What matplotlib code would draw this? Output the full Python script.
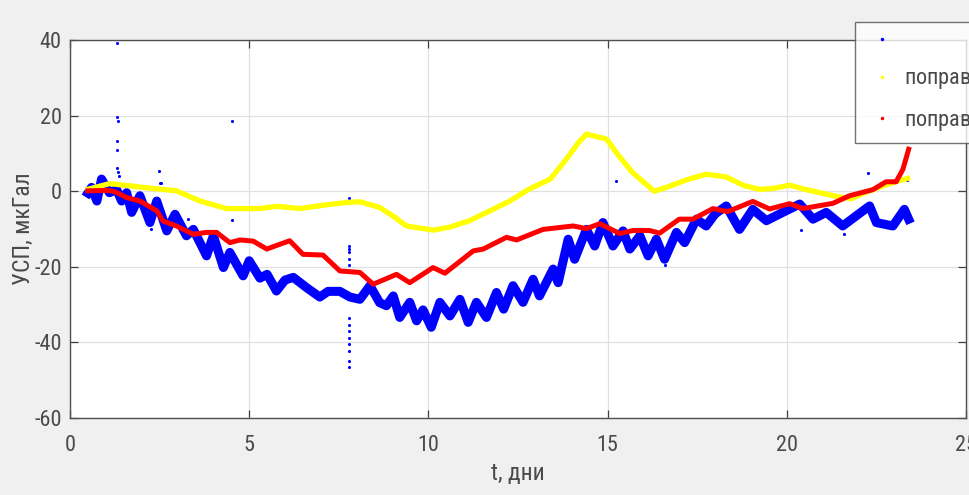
import numpy as np
import matplotlib
matplotlib.use("Agg")
import matplotlib.pyplot as plt
from matplotlib import font_manager
from matplotlib.lines import Line2D

# ---------------- data ----------------
blue_t = [0.5, 0.6, 0.75, 0.88, 1.1, 1.3, 1.44, 1.58, 1.72, 1.95, 2.23, 2.42, 2.7, 2.93,
          3.25, 3.44, 3.81, 4.0, 4.28, 4.46, 4.83, 5.0, 5.3, 5.5, 5.76, 6.0, 6.23, 6.6,
          6.97, 7.2, 7.53, 7.81, 8.09, 8.37, 8.64, 8.83, 9.02, 9.2, 9.48, 9.67, 9.85,
          10.08, 10.32, 10.6, 10.88, 11.11, 11.34, 11.62, 11.9, 12.1, 12.36, 12.64, 12.92,
          13.1, 13.48, 13.62, 13.9, 14.08, 14.41, 14.64, 14.87, 15.15, 15.43, 15.62, 15.9,
          16.13, 16.36, 16.59, 16.92, 17.15, 17.48, 17.75, 18.0, 18.31, 18.68, 19.05,
          19.43, 19.89, 20.36, 20.73, 21.1, 21.56, 21.94, 22.31, 22.5, 22.96, 23.28, 23.4]
blue_v = [-0.5, 1.0, -2.6, 3.2, -0.4, 0.5, -2.6, -0.4, -5.6, -1.2, -8.3, -2.6, -10.5, -6.1,
          -11.8, -10.1, -17.1, -11.8, -20.2, -16.2, -22.4, -18.4, -23.0, -22.0, -26.4, -23.5,
          -22.8, -25.5, -28.0, -26.5, -26.5, -28.0, -28.6, -25.0, -29.5, -30.3, -27.7, -33.4,
          -29.4, -34.3, -31.4, -36.0, -29.4, -33.0, -28.6, -34.7, -29.4, -33.4, -26.8, -31.2,
          -25.0, -29.4, -23.3, -27.7, -20.6, -24.2, -12.7, -18.0, -10.1, -14.5, -8.3, -14.5,
          -10.5, -15.3, -11.8, -17.1, -12.7, -18.0, -10.9, -13.6, -7.4, -9.2, -6.0, -3.9,
          -10.1, -4.8, -7.8, -5.6, -3.4, -7.4, -5.6, -9.2, -6.5, -3.9, -8.3, -9.2, -4.8, -7.4]

outlier_t = [1.32, 1.32, 1.34, 1.32, 1.32, 1.30, 1.35, 1.38, 2.49, 2.50, 2.55, 4.52, 4.52,
             7.79, 7.79, 7.79, 7.79, 7.79, 7.79, 7.79, 7.79, 7.79, 7.79, 7.79, 7.79, 7.79,
             7.79, 7.79, 15.23, 22.26, 23.35, 16.6, 20.4, 21.6, 3.3, 2.26]
outlier_v = [39.2, 19.6, 18.5, 13.3, 10.8, 6.2, 5.0, 4.0, 5.4, 2.3, 2.3, 18.6, -7.7,
             -1.9, -14.5, -15.3, -16.2, -17.9, -19.6, -21.3, -33.6, -35.3, -37.0, -38.8,
             -40.5, -42.2, -44.9, -46.6, 2.6, 4.9, 3.0, -19.6, -10.2, -11.2, -7.4, -9.9]

yellow_t = [0.5, 1.1, 1.6, 2.05, 2.97, 3.63, 4.37, 5.3, 5.76, 6.41, 7.16, 7.7, 8.09, 8.64,
            9.0, 9.39, 10.13, 10.6, 11.15, 11.8, 12.27, 12.8, 13.4, 13.85, 14.2, 14.41,
            14.97, 15.3, 15.7, 16.3, 16.7, 17.2, 17.75, 18.3, 18.8, 19.24, 19.6, 20.08,
            20.5, 21.3, 21.8, 22.2, 22.8, 23.37]
yellow_v = [0.5, 2.0, 1.5, 1.0, 0.1, -2.6, -4.6, -4.6, -4.0, -4.6, -3.6, -3.0, -2.8, -4.3,
            -6.5, -9.2, -10.3, -9.5, -7.8, -4.8, -2.6, 0.5, 3.2, 8.5, 13.0, 15.1, 13.8, 9.5,
            4.9, 0.0, 1.2, 3.0, 4.5, 3.8, 1.5, 0.5, 0.7, 1.6, 0.5, -1.2, -2.0, -0.3, 1.8, 3.4]

red_t = [0.5, 1.07, 1.3, 1.58, 1.95, 2.42, 2.6, 2.97, 3.44, 3.81, 4.09, 4.46, 4.74, 5.11,
         5.49, 6.13, 6.5, 7.06, 7.53, 8.09, 8.46, 9.11, 9.48, 10.13, 10.46, 11.25, 11.53,
         12.18, 12.46, 13.2, 14.04, 14.41, 14.78, 15.34, 15.71, 16.17, 16.45, 17.0, 17.38,
         17.94, 18.35, 19.05, 19.52, 20.08, 20.45, 21.29, 21.75, 22.4, 22.77, 23.05, 23.24,
         23.4]
red_v = [0.1, 0.2, -0.3, -1.7, -2.6, -5.2, -7.9, -9.2, -11.4, -10.9, -10.9, -13.6, -12.9,
         -13.2, -15.3, -13.1, -16.7, -16.9, -21.1, -21.5, -24.6, -22.0, -24.2, -20.2, -21.7,
         -15.8, -15.3, -12.2, -12.9, -10.1, -9.2, -9.9, -8.6, -11.2, -10.4, -10.4, -11.1,
         -7.4, -7.4, -4.6, -5.4, -2.7, -4.7, -3.3, -4.6, -3.2, -1.2, 0.4, 2.5, 2.5, 5.8, 11.1]

legend_labels = [" ", r"поправки g$_{\mathrm{пр}}$", r"поправки g$_{\mathrm{дин}}$"]
x_ticks = [0, 5, 10, 15, 20, 25]
y_ticks = [-60, -40, -20, 0, 20, 40]

# ---------------- fonts ----------------
names = {f.name for f in font_manager.fontManager.ttflist}
fam = "DejaVu Sans"
for cand in ["Liberation Sans Narrow", "Roboto Condensed", "Open Sans Condensed", "Roboto"]:
    if cand in names:
        fam = cand
        break
plt.rcParams["font.family"] = [fam, "DejaVu Sans"]
plt.rcParams["mathtext.fontset"] = "custom"
plt.rcParams["mathtext.rm"] = fam
plt.rcParams["mathtext.it"] = fam
plt.rcParams["axes.unicode_minus"] = False

txt_col = "#4a4a4a"
fs = 16

fig = plt.figure(figsize=(9.69, 4.95), dpi=100, facecolor="#f0f0f0")
ax = fig.add_axes([70 / 969, 77 / 495, 896 / 969, 378 / 495])
ax.set_facecolor("white")

ax.plot(blue_t, blue_v, color="#0000ff", lw=6.5, solid_joinstyle="round", zorder=2)
ax.scatter(outlier_t, outlier_v, s=5, color="#0000ff", zorder=2, linewidths=0)
ax.plot(yellow_t, yellow_v, color="#ffff00", lw=3.8, zorder=3)
ax.plot(red_t, red_v, color="#ff0000", lw=3.6, zorder=4)

ax.set_xlim(0, 25)
ax.set_ylim(-60, 40)
ax.set_xticks(x_ticks)
ax.set_yticks(y_ticks)
ax.grid(True, color="#e0e0e0", lw=0.9)
ax.set_axisbelow(True)
ax.tick_params(direction="in", top=True, right=True, length=6, width=0.9,
               colors="#404040", labelcolor=txt_col, labelsize=fs)
ax.tick_params(axis="x", pad=12)
ax.tick_params(axis="y", pad=6)
for s in ax.spines.values():
    s.set_color("#505050")
    s.set_linewidth(1.0)

ax.set_xlabel("t, дни", fontsize=fs + 1, color=txt_col)
ax.set_ylabel("УСП, мкГал", fontsize=fs + 1, color=txt_col)
ax.xaxis.set_label_coords(0.5, -(462 - 418) / 378)
ax.yaxis.set_label_coords(-(70 - 35) / 896, 0.5)

handles = [Line2D([], [], ls="none", marker=".", ms=3, color=c)
           for c in ["#0000ff", "#ffff00", "#ff0000"]]
leg = fig.legend(handles, legend_labels, loc="upper left",
                 bbox_to_anchor=(855 / 969, 1 - 22 / 495), borderaxespad=0,
                 fontsize=fs, frameon=True, fancybox=False, handlelength=1.6,
                 handletextpad=0.2, borderpad=0.4, labelspacing=0.75,
                 labelcolor=txt_col)
leg.get_frame().set_edgecolor("#505050")
leg.get_frame().set_linewidth(1.0)
leg.get_frame().set_facecolor("white")

fig.savefig("out.png", dpi=100, facecolor=fig.get_facecolor())
